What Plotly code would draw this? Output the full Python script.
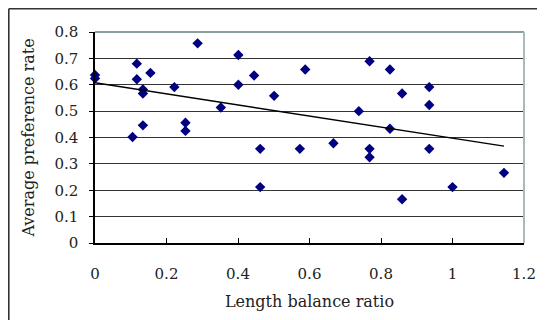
import numpy as np
import plotly.graph_objects as go

# Length balance ratio (x) and average preference rate (y)
length_ratio = [0.0, 0.0, 0.117, 0.117, 0.155, 0.134, 0.134, 0.105, 0.134,
                0.222, 0.253, 0.253, 0.287, 0.352, 0.401, 0.401, 0.445, 0.501,
                0.462, 0.462, 0.588, 0.768, 0.825, 0.859, 0.935, 0.935, 0.738,
                0.825, 0.573, 0.667, 0.768, 0.768, 0.935, 0.859, 1.0, 1.144]
preference = [0.637, 0.624, 0.680, 0.621, 0.645, 0.582, 0.567, 0.402, 0.446,
              0.591, 0.456, 0.425, 0.757, 0.514, 0.713, 0.600, 0.635, 0.558,
              0.357, 0.212, 0.658, 0.689, 0.658, 0.567, 0.591, 0.523, 0.500,
              0.433, 0.357, 0.378, 0.357, 0.325, 0.357, 0.166, 0.212, 0.266]

x_ticks = [0, 0.2, 0.4, 0.6, 0.8, 1.0, 1.2]
x_tick_text = ["0", "0.2", "0.4", "0.6", "0.8", "1", "1.2"]
y_ticks = [0, 0.1, 0.2, 0.3, 0.4, 0.5, 0.6, 0.7, 0.8]
y_tick_text = ["0", "0.1", "0.2", "0.3", "0.4", "0.5", "0.6", "0.7", "0.8"]

x_label = "Length balance ratio"
y_label = "Average preference rate"

slope, intercept = np.polyfit(length_ratio, preference, 1)
trend_x = [min(length_ratio), max(length_ratio)]
trend_y = [intercept + slope * v for v in trend_x]

FONT = "DejaVu Serif, Liberation Serif, serif"

fig = go.Figure()
fig.add_trace(go.Scatter(
    x=length_ratio, y=preference, mode="markers",
    marker=dict(symbol="diamond", size=8, color="#000080"),
    showlegend=False, cliponaxis=False))
fig.add_trace(go.Scatter(
    x=trend_x, y=trend_y, mode="lines",
    line=dict(color="black", width=1.5), showlegend=False))

# page has an 8px body margin, so the figure is 537x312
W, H = 537, 312
L, T, R, B = 87, 24, 21, 77
PW = W - L - R
PH = H - T - B
fx0 = (-L + 0.8) / PW          # figure left edge in paper units
fy1 = 1 + (T - 0.8) / PH       # figure top edge in paper units
fy0 = -B / PH
fx1 = 1 + R / PW

fig.update_layout(
    width=W, height=H,
    margin=dict(l=L, r=R, t=T, b=B, autoexpand=False),
    paper_bgcolor="white", plot_bgcolor="white",
    font=dict(family=FONT, size=15, color="#222"),
    xaxis=dict(range=[0, 1.2], tickvals=x_ticks, ticktext=x_tick_text,
               showgrid=False, zeroline=False, showline=True, automargin=False,
               linecolor="black", linewidth=1.5,
               ticks="inside", ticklen=5, tickcolor="black",
               tickfont=dict(size=15), ticklabelstandoff=16,
               title=dict(text=x_label, font=dict(size=16), standoff=14)),
    yaxis=dict(range=[0, 0.8], tickvals=y_ticks, ticktext=y_tick_text,
               showgrid=True, gridcolor="#333", gridwidth=1, automargin=False,
               zeroline=False, showline=True, linecolor="black", linewidth=1.5,
               ticks="outside", ticklen=4, tickcolor="black",
               tickfont=dict(size=15), ticklabelstandoff=8,
               title=dict(text=y_label, font=dict(size=16), standoff=16)),
    shapes=[
        dict(type="line", xref="paper", yref="paper", x0=0, x1=1, y0=1, y1=1,
             line=dict(color="#5f7f7f", width=1.5)),
        dict(type="line", xref="paper", yref="paper", x0=1, x1=1, y0=0, y1=1,
             line=dict(color="#a8bcbc", width=2)),
        # outer chart frame (cut by the window)
        dict(type="line", xref="paper", yref="paper", layer="above",
             x0=fx0, x1=fx1, y0=fy1, y1=fy1,
             line=dict(color="#333", width=1.6)),
        dict(type="line", xref="paper", yref="paper", layer="above",
             x0=fx0, x1=fx0, y0=fy0, y1=fy1,
             line=dict(color="#333", width=1.6)),
    ],
)

fig.write_html("out.html")
